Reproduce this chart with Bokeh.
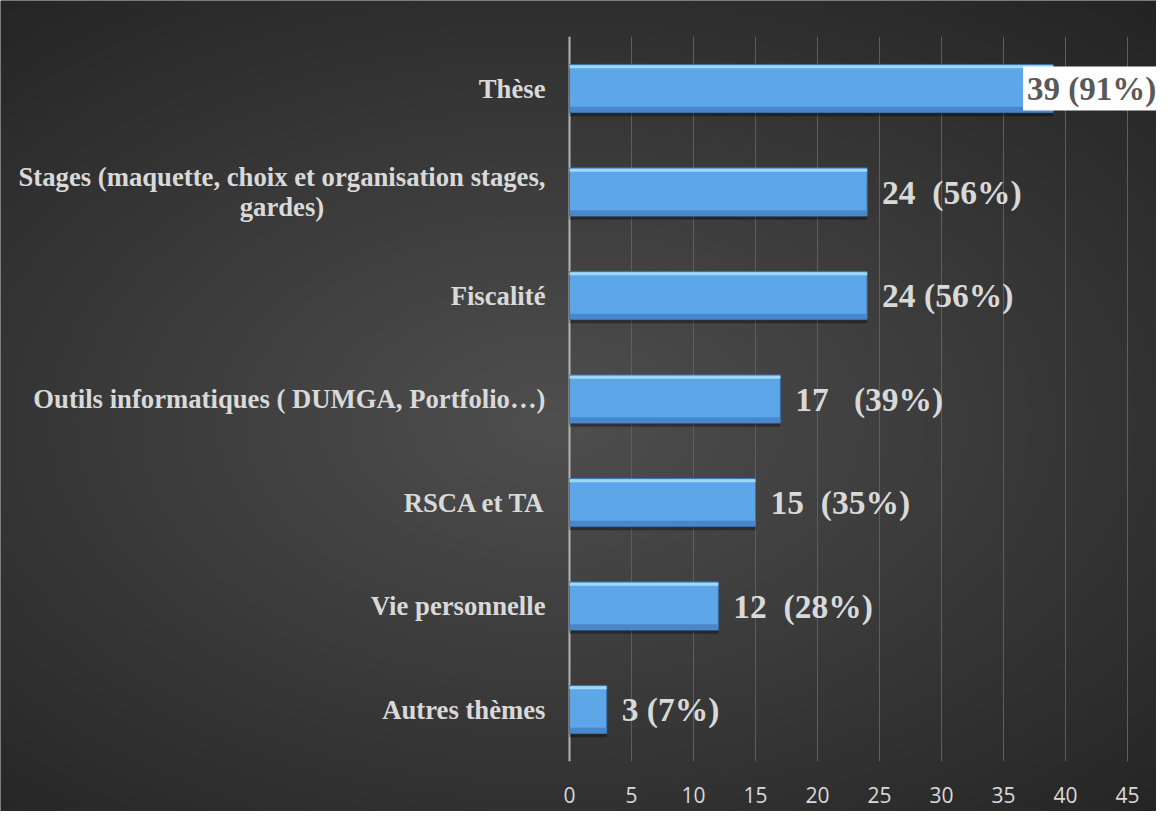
import numpy as np
from bokeh.plotting import figure
from bokeh.models import LinearAxis, FixedTicker, Range1d
from bokeh.core.properties import value
from bokeh.embed import file_html
from bokeh.resources import INLINE

NB = "\u00a0"

# ---- data ----
categories = [
    "Thèse",
    "Stages (maquette, choix et organisation stages,\ngardes)",
    "Fiscalité",
    "Outils informatiques ( DUMGA, Portfolio…)",
    "RSCA et TA",
    "Vie personnelle",
    "Autres thèmes",
]
counts = [39, 24, 24, 17, 15, 12, 3]
value_labels = ["39 (91%)", "24" + NB + " (56%)", "24 (56%)", "17" + NB + NB + " (39%)",
                "15" + NB + " (35%)", "12" + NB + " (28%)", "3 (7%)"]
x_ticks = [0, 5, 10, 15, 20, 25, 30, 35, 40, 45]

# ---- layout constants ----
W, H = 1156, 811
n = len(categories)
ypos = [n - 1 - i for i in range(n)]

PX_X = 12.4
X0_PX = 569
x_start = -X0_PX / PX_X
x_end = (W - X0_PX) / PX_X
PX_Y = 103.5
TOP_CENTER_PX = 88
y_top = (n - 1) + TOP_CENTER_PX / PX_Y
y_bottom = y_top - H / PX_Y

p = figure(width=W, height=H, x_range=Range1d(x_start, x_end), y_range=Range1d(y_bottom, y_top),
           output_backend="svg", toolbar_location=None, x_axis_location=None, y_axis_location=None,
           min_border=0, outline_line_color=None, background_fill_color="#333333",
           border_fill_color="#2f2f2f")
p.xgrid.visible = False
p.ygrid.visible = False

# ---- radial gradient background ----
gw, gh = 578, 406
jj = (np.arange(gw) + 0.5) * W / gw
ii = (np.arange(gh) + 0.5) * H / gh
XX, YY = np.meshgrid(jj, ii)
r = np.sqrt(((XX - 552) / 1000.0) ** 2 + ((YY - 422) / 624.0) ** 2)
b = np.clip(79 - 48 * r, 30, 255).astype(np.uint8)
img = np.zeros((gh, gw), dtype=np.uint32)
view = img.view(dtype=np.uint8).reshape((gh, gw, 4))
view[..., 0] = b
view[..., 1] = b
view[..., 2] = b
view[..., 3] = 255
img = img[::-1].copy()
p.image_rgba(image=[img], x=x_start, y=y_bottom, dw=x_end - x_start, dh=y_top - y_bottom)

# ---- gridlines ----
p.segment(x0=x_ticks, y0=-0.5, x1=x_ticks, y1=n - 0.5, line_color="#5e5e5e", line_width=1)
p.segment(x0=[0], y0=-0.5, x1=[0], y1=n - 0.5, line_color="#b4b4b4", line_width=2)

# ---- bars ----
h = 0.465
p.hbar(y=[y - 0.035 for y in ypos], left=0, right=counts, height=h,
       fill_color="black", fill_alpha=0.35, line_color=None)
p.hbar(y=ypos, left=0, right=counts, height=h, fill_color="#5da6e8",
       line_color="#3c74ae", line_width=1)
p.hbar(y=[y + h / 2 - 0.022 for y in ypos], left=0, right=counts, height=0.03,
       fill_color="#a6def9", fill_alpha=0.9, line_color=None)
p.hbar(y=[y - h / 2 + 0.03 for y in ypos], left=0, right=counts, height=0.05,
       fill_color="#4784c6", fill_alpha=0.9, line_color=None)

# ---- category labels ----
p.text(x=0, y=ypos, text=categories, x_offset=-24, anchor="center_right", text_align="center",
       text_baseline="middle", text_font=value("Liberation Serif"), text_font_style="bold",
       text_font_size="26.7px", text_color="#d9d9d9", text_line_height=1.0)

# ---- value labels ----
p.text(x=counts[1:], y=ypos[1:], text=value_labels[1:], x_offset=15, text_align="left",
       text_baseline="middle", text_font=value("Liberation Serif"), text_font_style="bold",
       text_font_size="33.5px", text_color="#d9d9d9")
p.text(x=counts[:1], y=ypos[:1], text=value_labels[:1], x_offset=-30, anchor="center_left",
       text_align="left", text_baseline="middle", text_font=value("Liberation Serif"),
       text_font_style="bold", text_font_size="33px", text_color="#595959",
       background_fill_color="white", padding=4)

# ---- x axis ----
ax = LinearAxis(ticker=FixedTicker(ticks=x_ticks), fixed_location=-0.5,
                axis_line_color=None, major_tick_line_color=None, minor_tick_line_color=None,
                major_label_standoff=20, major_label_text_font="Open Sans",
                major_label_text_font_size="21px", major_label_text_color="#d9d9d9")
p.add_layout(ax, "below")

open("out.html", "w").write(file_html(p, INLINE))
